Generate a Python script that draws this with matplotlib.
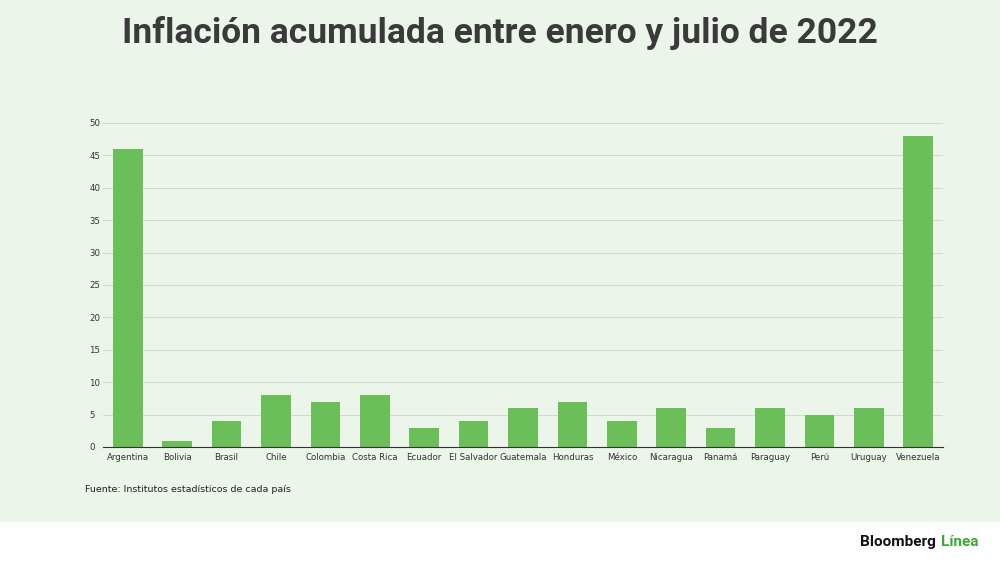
import matplotlib.pyplot as plt

paises = ['Argentina', 'Bolivia', 'Brasil', 'Chile', 'Colombia', 'Costa Rica', 'Ecuador',
          'El Salvador', 'Guatemala', 'Honduras', 'México', 'Nicaragua', 'Panamá',
          'Paraguay', 'Perú', 'Uruguay', 'Venezuela']
inflacion = [46, 1, 4, 8, 7, 8, 3, 4, 6, 7, 4, 6, 3, 6, 5, 6, 48]
yticks = [0, 5, 10, 15, 20, 25, 30, 35, 40, 45, 50]

bg = '#ebf5e9'
fig = plt.figure(figsize=(10, 5.62), dpi=100)
fig.patch.set_facecolor('white')
fig.patches.append(plt.Rectangle((0, 40/562), 1, 522/562, transform=fig.transFigure,
                                 facecolor=bg, zorder=-1))

ax = fig.add_axes([0.103, 1 - 447/562, 0.84, 324/562])
ax.set_facecolor(bg)
ax.bar(range(len(paises)), inflacion, width=0.6, color='#6abf59', zorder=2)
ax.set_xlim(-0.5, len(paises) - 0.5)
ax.set_ylim(0, 50)
ax.set_yticks(yticks)
ax.set_xticks(range(len(paises)))
ax.set_xticklabels(paises, fontsize=6.2, color='#333333')
ax.tick_params(axis='y', labelsize=6.2, colors='#333333', length=0, pad=10)
ax.tick_params(axis='x', length=0, pad=4)
for lab in ax.get_yticklabels():
    lab.set_horizontalalignment('left')
ax.grid(axis='y', color='#cfdccd', linewidth=0.7, zorder=0)
for s in ['top', 'right', 'left']:
    ax.spines[s].set_visible(False)
ax.spines['bottom'].set_color('#333333')

fig.text(0.5, 1 - 33/562, 'Inflación acumulada entre enero y julio de 2022', ha='center',
         va='center', fontsize=25.5, fontweight='bold', color='#3a3a3a', family='Roboto')
fig.text(0.085, 1 - 489/562, 'Fuente: Institutos estadísticos de cada país', ha='left',
         va='center', fontsize=6.8, color='#222222')
fig.text(0.936, 1 - 542/562, 'Bloomberg', ha='right', va='center', fontsize=11,
         fontweight='bold', color='#111111', family='Roboto')
fig.text(0.941, 1 - 542/562, 'Línea', ha='left', va='center', fontsize=11,
         fontweight='bold', color='#3aa935', family='Roboto')

fig.savefig('out.png', dpi=100, facecolor=fig.get_facecolor())
